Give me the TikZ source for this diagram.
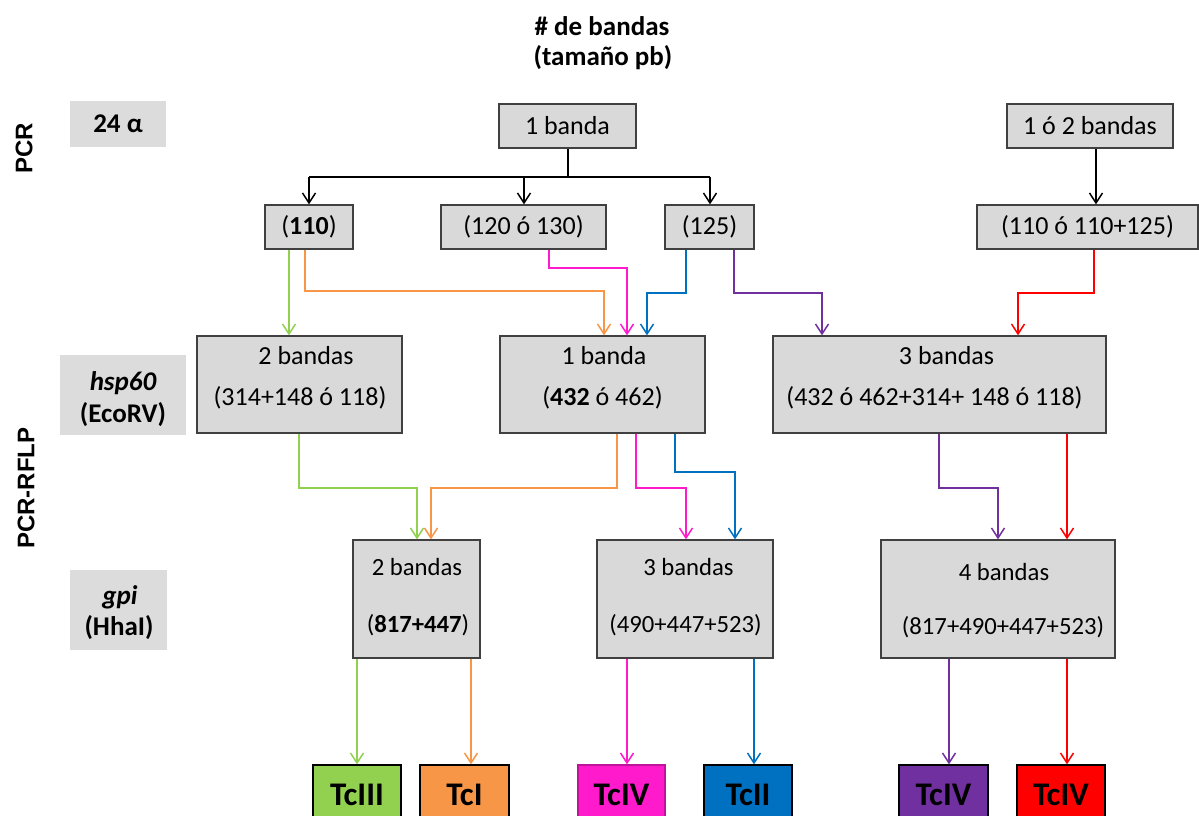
\documentclass[tikz,border=0pt]{standalone}
\usepackage{fontspec}
\setmainfont{Carlito}
\newfontfamily\arialfont{Liberation Sans}
\usetikzlibrary{arrows.meta}
\definecolor{boxgray}{HTML}{D9D9D9}
\definecolor{lblgray}{HTML}{DCDCDC}
\definecolor{bordergray}{HTML}{404040}
\definecolor{cgreen}{HTML}{92D050}
\definecolor{corange}{HTML}{F79646}
\definecolor{cmagenta}{HTML}{FF1ACC}
\definecolor{cblue}{HTML}{0070C0}
\definecolor{cpurple}{HTML}{7030A0}
\definecolor{cred}{HTML}{FF0000}
\begin{document}
\begin{tikzpicture}[x=1pt,y=-1pt,
  gbox/.style 2 args={draw=bordergray, fill=boxgray, line width=1.3pt, inner sep=0pt,
    minimum width=#1, minimum height=#2, font=\fontsize{26}{31}\selectfont},
  lbox/.style 2 args={fill=lblgray, inner sep=0pt, minimum width=#1, minimum height=#2,
    font=\bfseries\fontsize{27}{32}\selectfont},
  tbox/.style 2 args={draw=black, fill=#1, line width=1.3pt, inner sep=0pt,
    minimum width=#2, minimum height=60, font=\bfseries\fontsize{33}{38}\selectfont},
  txt/.style={inner sep=0pt, font=\fontsize{26}{31}\selectfont},
  stxt/.style={inner sep=0pt, font=\fontsize{24.7}{29}\selectfont},
  btxt/.style={inner sep=0pt, font=\bfseries\fontsize{27}{32}\selectfont},
  vlabel/.style={inner sep=0pt, rotate=90, font=\arialfont\bfseries\fontsize{24}{28}\selectfont},
  tip/.style={-{Straight Barb[length=10pt,width=13pt,line width=1.5pt]}},
  blk/.style={draw=black, line width=2pt},
  col/.style={draw=#1, line width=2pt, tip}
]
\useasboundingbox (0,0) rectangle (1199,816);
\clip (0,0) rectangle (1199,816);
\fill[white] (0,0) rectangle (1199,816);

% title
\node[btxt] (title1) at (602,26) {\# de bandas};
\node[btxt] (title2) at (603,58) {(tamaño pb)};

% side labels
\node[vlabel] (pcr) at (24,148) {PCR};
\node[vlabel] (rflp) at (26,488) {PCR-RFLP};
\node[lbox={96}{46}] (l1) at (118,124) {24 α};
\node[lbox={126}{80}] (l2) at (123,395) {};
\node[btxt] (l2a) at (123,383) {\itshape hsp60};
\node[btxt] (l2b) at (123,415) {(EcoRV)};
\node[lbox={97}{80}] (l3) at (118.5,610) {};
\node[btxt] (l3a) at (120,597) {\itshape gpi};
\node[btxt] (l3b) at (119,628) {(HhaI)};

% PCR boxes
\node[gbox={137}{44}] (t1) at (567.5,126) {1 banda};
\node[gbox={166}{44}] (t2) at (1090,126) {1 ó 2 bandas};
\node[gbox={88}{44}] (a) at (309,227) {(\textbf{110})};
\node[gbox={165}{44}] (b) at (523.5,227) {(120 ó 130)};
\node[gbox={89}{44}] (c) at (709.5,227) {(125)};
\node[gbox={221}{44}] (d) at (1087.5,227) {(110 ó 110+125)};

% hsp60 boxes
\node[gbox={205}{97}] (e) at (299.5,384.5) {};
\node[gbox={205}{97}] (f) at (602.5,384.5) {};
\node[gbox={333}{97}] (g) at (939.5,384.5) {};
\node[txt] (e1) at ([shift={(6.5,20)}]e.north) {2 bandas};
\node[txt] (e2) at ([shift={(0.5,62)}]e.north) {(314+148 ó 118)};
\node[txt] (f1) at ([shift={(1.5,20)}]f.north) {1 banda};
\node[txt] (f2) at ([shift={(0,62)}]f.north) {(\textbf{432} ó 462)};
\node[txt] (g1) at ([shift={(7,20)}]g.north) {3 bandas};
\node[txt] (g2) at ([shift={(-5,62)}]g.north) {(432 ó 462+314+ 148 ó 118)};

% gpi boxes
\node[gbox={127}{118}] (h) at (416.5,599) {};
\node[gbox={176}{118}] (i) at (685,599) {};
\node[gbox={234}{118}] (j) at (998,599) {};
\node[stxt] (h1) at ([shift={(0.5,28)}]h.north) {2 bandas};
\node[stxt] (h2) at ([shift={(1.5,86)}]h.north) {(\textbf{817+447})};
\node[stxt] (i1) at ([shift={(3.5,28)}]i.north) {3 bandas};
\node[stxt] (i2) at ([shift={(0.5,86)}]i.north) {(490+447+523)};
\node[stxt] (j1) at ([shift={(6,33)}]j.north) {4 bandas};
\node[stxt] (j2) at ([shift={(5,88)}]j.north) {(817+490+447+523)};

% types
\node[tbox={cgreen}{88}] (k1) at (357,795) {TcIII};
\node[tbox={corange}{89}] (k2) at (464.5,795) {TcI};
\node[tbox={cmagenta}{87}, draw=cmagenta!75!black] (k3) at (621.5,795) {TcIV};
\node[tbox={cblue}{88}] (k4) at (748,795) {TcII};
\node[tbox={cpurple}{89}] (k5) at (943.5,795) {TcIV};
\node[tbox={cred}{88}] (k6) at (1061,795) {TcIV};

% black connectors
\coordinate (jn) at (568,177);
\draw[blk] ([xshift=0.5pt]t1.south) -- (jn);
\draw[blk] (a.north |- jn) -- ([xshift=0.5pt]c.north |- jn);
\draw[blk,tip] (a.north |- jn) -- (a.north);
\draw[blk,tip] ([xshift=0.5pt]b.north |- jn) -- ([xshift=0.5pt]b.north);
\draw[blk,tip] ([xshift=0.5pt]c.north |- jn) -- ([xshift=0.5pt]c.north);
\draw[blk,tip] ([xshift=6pt]t2.south) -- ([xshift=6pt]t2.south |- d.north);

% row 2 -> row 3
\draw[col=cgreen] ([xshift=-20pt]a.south) -- ([xshift=-20pt]a.south |- e.north);
\draw[col=corange] ([xshift=-4pt]a.south) -- ++(0,41) -| ([xshift=1.5pt]f.north);
\draw[col=cmagenta] ([xshift=25.5pt]b.south) -- ++(0,18) -| ([xshift=24.5pt]f.north);
\draw[col=cblue] ([xshift=-23.5pt]c.south) -- ++(0,43) -| ([xshift=44.5pt]f.north);
\draw[col=cpurple] ([xshift=24.5pt]c.south) -- ++(0,43) -| ([xshift=-117.5pt]g.north);
\draw[col=cred] ([xshift=6.5pt]d.south) -- ++(0,43) -| ([xshift=78.5pt]g.north);

% row 3 -> row 4
\draw[col=cgreen] ([xshift=-0.5pt]e.south) -- ++(0,54) -| ([xshift=0.5pt]h.north);
\draw[col=corange] ([xshift=14.5pt]f.south) -- ++(0,54) -| ([xshift=14.5pt]h.north);
\draw[col=cmagenta] ([xshift=33.5pt]f.south) -- ++(0,54) -| ([xshift=1pt]i.north);
\draw[col=cblue] ([xshift=72.5pt]f.south) -- ++(0,38) -| ([xshift=50pt]i.north);
\draw[col=cpurple] ([xshift=-0.5pt]g.south) -- ++(0,54) -| (j.north);
\draw[col=cred] ([xshift=127.5pt]g.south) -- ([xshift=127.5pt]g.south |- j.north);

% row 4 -> types
\draw[col=cgreen] ([xshift=-59.5pt]h.south) -- ([xshift=-59.5pt]h.south |- k1.north);
\draw[col=corange] ([xshift=54.5pt]h.south) -- ([xshift=54.5pt]h.south |- k2.north);
\draw[col=cmagenta] ([xshift=-58pt]i.south) -- ([xshift=-58pt]i.south |- k3.north);
\draw[col=cblue] ([xshift=69pt]i.south) -- ([xshift=69pt]i.south |- k4.north);
\draw[col=cpurple] ([xshift=-49pt]j.south) -- ([xshift=-49pt]j.south |- k5.north);
\draw[col=cred] ([xshift=69pt]j.south) -- ([xshift=69pt]j.south |- k6.north);
\end{tikzpicture}
\end{document}
